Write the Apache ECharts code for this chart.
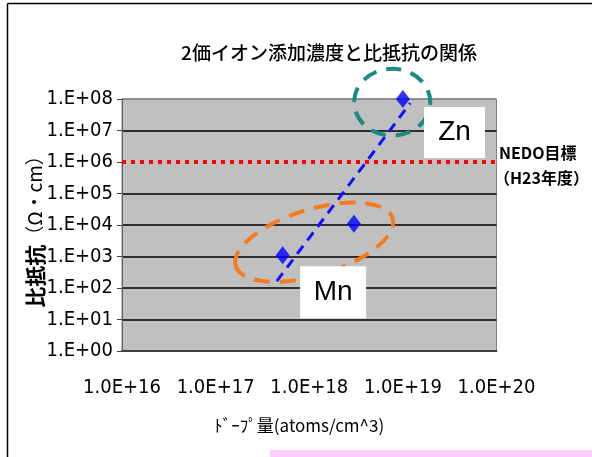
<!DOCTYPE html>
<html><head><meta charset="utf-8">
<script src="https://cdn.jsdelivr.net/npm/echarts@6/dist/echarts.min.js"></script>
<style>html,body{margin:0;padding:0;background:#fff}#c{width:592px;height:457px}</style>
</head><body><div id="c"></div>
<script>
// ---- data ----
const chartTitle = '2価イオン添加濃度と比抵抗の関係';
const xTitle = 'ﾄﾞｰﾌﾟ量(atoms/cm^3)';
const yTitleMain = '比抵抗';
const yTitleUnit = '（Ω・cm）';
const dopantNames = ['Mn', 'Mn', 'Zn'];
const dopingConc = [5.2e17, 3.0e18, 1.0e19];        // atoms/cm^3
const resistivity = [1.1e3, 1.1e4, 1.0e8];          // Ω·cm
const trendX = [4.5e17, 1.2e19];
const trendY = [1.65e2, 7.4e7];
const targetX = [1e16, 1e20];
const targetY = [1e6, 1e6];
const targetLabel1 = 'NEDO目標';
const targetLabel2 = '（H23年度）';
const xMin = 1e16, xMax = 1e20, yMin = 1, yMax = 1e8;
// annotation anchors (data coords)
const znGroupCenter = [7.7e18, 7.9e7];
const mnGroupCenter = [1.13e18, 2.85e3];
const znLabelCenter = [3.56e19, 8.6e6];
const mnLabelCenter = [1.8e18, 73];

const narrow = "'Liberation Sans Narrow','DejaVu Sans Condensed','Liberation Sans',sans-serif";
const cjk = "'Noto Sans CJK JP','Noto Sans',sans-serif";

const chart = echarts.init(document.getElementById('c'), null, {renderer: 'canvas'});

const splitColors = ['#000','#000','#000','#000','#000','#000','#c0c0c0','#000','#808080'];

chart.setOption({
  animation: false,
  backgroundColor: '#fff',
  title: {
    text: chartTitle, left: 324, top: 38, textAlign: 'center',
    textStyle: {fontFamily: cjk, fontSize: 19, fontWeight: 500, color: '#000'}
  },
  grid: {left: 122, right: 95.5, top: 99, bottom: 106, show: true,
         backgroundColor: '#c0c0c0', borderColor: '#808080', borderWidth: 1},
  xAxis: {
    type: 'log', logBase: 10, min: xMin, max: xMax,
    name: xTitle, nameLocation: 'middle', nameGap: 66,
    nameTextStyle: {fontFamily: cjk, fontSize: 17, color: '#000', padding: [0, 20, 0, 0]},
    axisLine: {show: true, lineStyle: {color: '#404040', width: 2}},
    axisTick: {show: false},
    splitLine: {show: false},
    axisLabel: {
      margin: 27, fontFamily: narrow, fontSize: 20, color: '#000',
      formatter: v => '1.0E+' + Math.round(Math.log10(v))
    }
  },
  yAxis: {
    type: 'log', logBase: 10, min: yMin, max: yMax,
    axisLine: {show: true, lineStyle: {color: '#606060', width: 1}},
    axisTick: {show: true, length: 5, lineStyle: {color: '#404040'}},
    splitLine: {show: true, lineStyle: {color: splitColors, width: 1.5}},
    axisLabel: {
      margin: 9, fontFamily: narrow, fontSize: 20, color: '#000',
      formatter: v => { const e = Math.round(Math.log10(v)); return '1.E+' + (e < 10 ? '0' + e : e); }
    }
  },
  series: [
    {
      type: 'line', name: 'target', data: targetX.map((x, i) => [x, targetY[i]]),
      showSymbol: false, symbol: 'none', z: 3,
      lineStyle: {color: '#ff0000', width: 4, type: [4, 5], cap: 'butt'}
    },
    {
      type: 'line', name: 'trend', data: trendX.map((x, i) => [x, trendY[i]]),
      showSymbol: false, symbol: 'none', z: 4,
      lineStyle: {color: '#1010ff', width: 3, type: [10, 7], cap: 'butt'}
    },
    {
      type: 'scatter', name: 'data', z: 6,
      data: dopingConc.map((x, i) => ({value: [x, resistivity[i]], name: dopantNames[i]})),
      symbol: 'diamond', symbolSize: [14, 18],
      itemStyle: {color: '#0000ff'}
    }
  ]
});

function px(p) { return chart.convertToPixel({gridIndex: 0}, p); }
const zc = px(znGroupCenter), mc = px(mnGroupCenter), zl = px(znLabelCenter), ml = px(mnLabelCenter);

chart.setOption({
  graphic: [
    {type: 'line', shape: {x1: 7.5, y1: 3.5, x2: 592, y2: 3.5}, style: {stroke: '#000', lineWidth: 1.5}},
    {type: 'line', shape: {x1: 7.5, y1: 3.5, x2: 7.5, y2: 457}, style: {stroke: '#000', lineWidth: 1.5}},
    {type: 'rect', shape: {x: 270, y: 450, width: 322, height: 7}, style: {fill: '#ffccff'}},
    {type: 'ellipse', x: zc[0], y: zc[1], shape: {cx: 0, cy: 0, rx: 38, ry: 33.5}, z: 20,
     style: {fill: 'none', stroke: '#1a8a84', lineWidth: 4, lineDash: [15, 10]}},
    {type: 'ellipse', x: mc[0], y: mc[1], rotation: 17 * Math.PI / 180,
     shape: {cx: 0, cy: 0, rx: 82, ry: 33}, z: 20,
     style: {fill: 'none', stroke: '#f57a20', lineWidth: 4, lineDash: [16, 10]}},
    {type: 'rect', shape: {x: zl[0] - 30.5, y: zl[1] - 25.5, width: 61, height: 51}, z: 30, style: {fill: '#fff'}},
    {type: 'text', x: zl[0], y: zl[1], z: 31,
     style: {text: 'Zn', fontFamily: "'Liberation Sans',Arial,sans-serif", fontSize: 28, fill: '#000', align: 'center', verticalAlign: 'middle'}},
    {type: 'rect', shape: {x: ml[0] - 33, y: ml[1] - 26, width: 66, height: 52}, z: 30, style: {fill: '#fff'}},
    {type: 'text', x: ml[0], y: ml[1], z: 31,
     style: {text: 'Mn', fontFamily: "'Liberation Sans',Arial,sans-serif", fontSize: 28, fill: '#000', align: 'center', verticalAlign: 'middle'}},
    {type: 'text', x: 499, y: 153, z: 31,
     style: {text: targetLabel1, fontFamily: cjk, fontSize: 16, fontWeight: 'bold', fill: '#000', align: 'left', verticalAlign: 'middle'}},
    {type: 'text', x: 494, y: 178, z: 31,
     style: {text: targetLabel2, fontFamily: cjk, fontSize: 16, fontWeight: 'bold', fill: '#000', align: 'left', verticalAlign: 'middle'}},
    {type: 'text', x: 35, y: 227, rotation: Math.PI / 2, z: 31,
     style: {
       text: '{a|' + yTitleMain + '}{b|' + yTitleUnit + '}',
       align: 'center', verticalAlign: 'middle',
       rich: {
         a: {fontFamily: cjk, fontSize: 21, fontWeight: 'bold', fill: '#000'},
         b: {fontFamily: cjk, fontSize: 19, fontWeight: 'normal', fill: '#000'}
       }
     }}
  ]
});
</script></body></html>
